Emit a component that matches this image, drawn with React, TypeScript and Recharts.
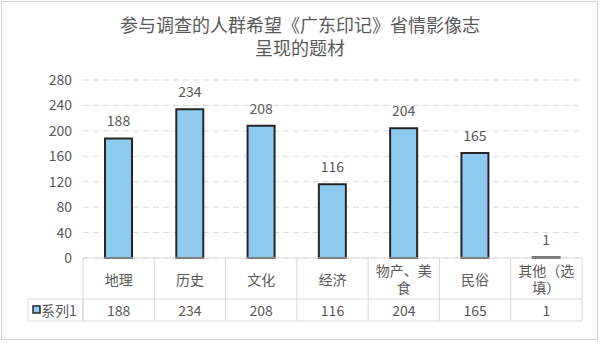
import React from 'react';
import { BarChart, Bar, XAxis, YAxis, CartesianGrid, LabelList } from 'recharts';

const categories = ['地理', '历史', '文化', '经济', '物产、美食', '民俗', '其他（选填）'];
const values = [188, 234, 208, 116, 204, 165, 1];
const seriesName = '系列1';
const yTicks = [0, 40, 80, 120, 160, 200, 240, 280];

const data = categories.map((name, i) => ({ name, value: values[i] }));

const W = 600;
const H = 351;
const MARGIN = { top: 80, right: 18, left: 0, bottom: 30 };
const Y_AXIS_W = 83;
const X_AXIS_H = 63;
const HEAD_H = 41;
const LEGEND_W = 55;
const BAND = (W - MARGIN.left - MARGIN.right - Y_AXIS_W) / categories.length;

const FONT = '"Noto Sans CJK SC", "Noto Sans", sans-serif';
const TEXT = '#595959';
const LINE = '#d9d9d9';
const BAR_FILL = '#8fcbee';
const BAR_STROKE = '#262626';

// split long names into rows of 4 characters, like Excel wraps them
const wrap = (s: string) => {
  const out: string[] = [];
  for (let i = 0; i < s.length; i += 4) out.push(s.slice(i, i + 4));
  return out;
};

const TableTick = (props: any) => {
  const { x, y, index } = props;
  const left = x - BAND / 2;
  const right = x + BAND / 2;
  const lines = wrap(categories[index]);
  const lh = 17;
  const headMid = y + HEAD_H / 2;
  return (
    <g>
      <line x1={right} y1={y} x2={right} y2={y + X_AXIS_H} stroke={LINE} />
      <line x1={left} y1={y + HEAD_H} x2={right} y2={y + HEAD_H} stroke={LINE} />
      <line x1={left} y1={y + X_AXIS_H} x2={right} y2={y + X_AXIS_H} stroke={LINE} />
      {index === 0 && (
        <g>
          <line x1={left} y1={y} x2={left} y2={y + X_AXIS_H} stroke={LINE} />
          <rect x={left - LEGEND_W} y={y + HEAD_H} width={LEGEND_W} height={X_AXIS_H - HEAD_H} fill="none" stroke={LINE} />
          <rect x={left - LEGEND_W + 5} y={y + 48} width={7} height={7} fill={BAR_FILL} stroke={BAR_STROKE} strokeWidth={1.5} />
          <text x={left - LEGEND_W + 13} y={y + 52} dominantBaseline="central" fontSize={14} fill={TEXT} fontFamily={FONT}>
            {seriesName}
          </text>
        </g>
      )}
      {lines.map((t, i) => (
        <text
          key={i}
          x={x}
          y={headMid + (i - (lines.length - 1) / 2) * lh}
          textAnchor="middle"
          dominantBaseline="central"
          fontSize={14}
          fill={TEXT}
          fontFamily={FONT}
        >
          {t}
        </text>
      ))}
      <text x={x} y={y + 52} textAnchor="middle" dominantBaseline="central" fontSize={14} fill={TEXT} fontFamily={FONT}>
        {values[index]}
      </text>
    </g>
  );
};

export default function App() {
  return (
    <div style={{ position: 'absolute', left: 0, top: 0, width: W, height: H, background: '#fff', fontFamily: FONT }}>
      <div
        style={{
          position: 'absolute', left: 1, top: 1, width: 597, height: 339,
          border: '1px solid #d4d4d4', boxSizing: 'border-box',
        }}
      />
      <div
        style={{
          position: 'absolute', left: 0, top: 13, width: W, textAlign: 'center',
          fontSize: 18, lineHeight: '23px', color: TEXT, fontFamily: FONT,
        }}
      >
        参与调查的人群希望《广东印记》省情影像志
        <br />
        呈现的题材
      </div>
      <div style={{ position: 'absolute', left: 0, top: 0 }}>
        <BarChart width={W} height={H} data={data} margin={MARGIN} barSize={27}>
          <CartesianGrid vertical={false} stroke={LINE} strokeDasharray="6 4" />
          <XAxis
            dataKey="name"
            height={X_AXIS_H}
            interval={0}
            tickSize={0}
            tickMargin={0}
            axisLine={{ stroke: LINE }}
            tickLine={false}
            tick={<TableTick />}
          />
          <YAxis
            width={Y_AXIS_W}
            domain={[0, 280]}
            ticks={yTicks}
            axisLine={false}
            tickLine={false}
            tickSize={0}
            tickMargin={11}
            tick={{ fill: TEXT, fontSize: 14, fontFamily: FONT }}
          />
          <Bar dataKey="value" fill={BAR_FILL} stroke={BAR_STROKE} strokeWidth={2} isAnimationActive={false}>
            <LabelList dataKey="value" position="top" offset={12} fill={TEXT} fontSize={14} fontFamily={FONT} />
          </Bar>
        </BarChart>
      </div>
    </div>
  );
}
